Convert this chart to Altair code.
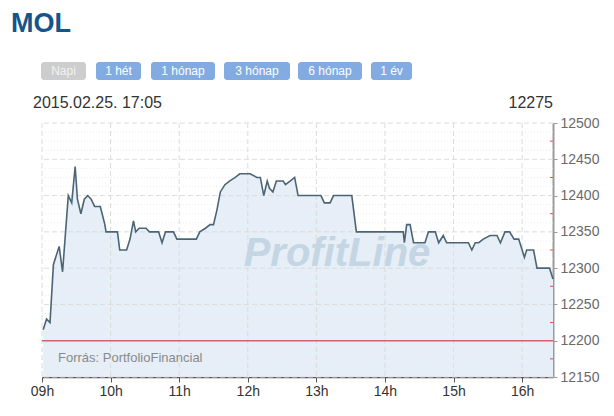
import altair as alt
import pandas as pd

# ---- data ----
times = ["09:01", "09:04", "09:07", "09:10", "09:12", "09:15", "09:18", "09:23", "09:26", "09:29",
         "09:31", "09:34", "09:37", "09:40", "09:43", "09:46", "09:51", "09:55", "09:56", "10:06",
         "10:08", "10:14", "10:17", "10:20", "10:22", "10:25", "10:31", "10:34", "10:42", "10:45",
         "10:48", "10:55", "10:58", "11:15", "11:18", "11:23", "11:27", "11:30", "11:33", "11:36",
         "11:40", "11:44", "11:49", "11:53", "12:02", "12:08", "12:11", "12:14", "12:17", "12:19",
         "12:22", "12:25", "12:31", "12:33", "12:37", "12:41", "12:44", "13:04", "13:07", "13:12",
         "13:15", "13:31", "13:35", "14:16", "14:17", "14:19", "14:22", "14:25", "14:35", "14:38",
         "14:44", "14:47", "14:51", "14:54", "15:13", "15:16", "15:19", "15:22", "15:26", "15:32",
         "15:38", "15:41", "15:45", "15:49", "15:53", "15:57", "16:02", "16:04", "16:10", "16:13",
         "16:24", "16:27"]
prices = [12215, 12230, 12225, 12305, 12315, 12330, 12295, 12400, 12390, 12440,
          12395, 12375, 12395, 12400, 12395, 12385, 12385, 12360, 12350, 12350,
          12325, 12325, 12340, 12365, 12350, 12355, 12355, 12350, 12350, 12335,
          12350, 12350, 12340, 12340, 12350, 12355, 12360, 12360, 12380, 12405,
          12415, 12420, 12425, 12430, 12430, 12425, 12425, 12400, 12420, 12410,
          12405, 12420, 12420, 12415, 12420, 12425, 12400, 12400, 12390, 12390,
          12400, 12400, 12350, 12350, 12335, 12360, 12360, 12335, 12335, 12350,
          12350, 12335, 12345, 12335, 12335, 12325, 12335, 12335, 12340, 12345,
          12345, 12335, 12350, 12350, 12340, 12340, 12315, 12325, 12325, 12300,
          12300, 12285]

hour_ticks = [9, 10, 11, 12, 13, 14, 15, 16]
price_ticks = [12150, 12200, 12250, 12300, 12350, 12400, 12450, 12500]
minor_ticks = [12175, 12225, 12275, 12325, 12375, 12425, 12475]
fine_levels = [12162.5, 12175, 12187.5, 12212.5, 12225, 12237.5, 12262.5, 12275, 12287.5,
               12312.5, 12325, 12337.5, 12362.5, 12375, 12387.5, 12412.5, 12425, 12437.5,
               12462.5, 12475, 12487.5]
prev_close = 12200
x_domain = [9.0, 16.45]
y_domain = [12150, 12500]

title_text = "MOL"
buttons = ["Napi", "1 hét", "1 hónap", "3 hónap", "6 hónap", "1 év"]
stamp = "2015.02.25. 17:05"
last_price = "12275"
source_text = "Forrás: PortfolioFinancial"
watermark = "ProfitLine"


def to_hours(s):
    h, m = s.split(":")
    return int(h) + int(m) / 60.0


df = pd.DataFrame({"t": [to_hours(s) for s in times], "p": prices})
df["base"] = y_domain[0]

FONT = "Arial, 'Liberation Sans', sans-serif"

X = alt.X("t:Q", scale=alt.Scale(domain=x_domain, nice=False, zero=False),
          axis=alt.Axis(values=hour_ticks, title=None, grid=False, labelFlush=False,
                        labelExpr="(datum.value < 10 ? '0' : '') + datum.value + 'h'",
                        domainColor="#555555", domainWidth=1.5, tickColor="#555555",
                        tickSize=5, labelFontSize=14, labelColor="#333333",
                        labelFont=FONT, labelPadding=2))
Y = alt.Y("p:Q", scale=alt.Scale(domain=y_domain, nice=False, zero=False),
          axis=alt.Axis(orient="right", values=price_ticks, title=None, grid=False,
                        format="d", labelFlush=False,
                        domainColor="#9a9a9a", domainWidth=2, tickColor="#9a9a9a",
                        tickSize=4, labelFontSize=14, labelColor="#6a6a6a",
                        labelFont=FONT, labelPadding=3))

area = alt.Chart(df).mark_area(color="#e6eef7", opacity=1).encode(
    x=X, y=Y, y2="base:Q")

fine = alt.Chart(pd.DataFrame({"p": fine_levels})).mark_rule(
    color="#ececec", strokeWidth=1, strokeDash=[1, 2]).encode(y=Y)

hgrid = alt.Chart(pd.DataFrame({"p": price_ticks})).mark_rule(
    color="#dcdcdc", strokeWidth=1, strokeDash=[5, 3]).encode(y=Y)

vgrid = alt.Chart(pd.DataFrame({"t": hour_ticks})).mark_rule(
    color="#dcdcdc", strokeWidth=1, strokeDash=[5, 3]).encode(x=X)

ref = alt.Chart(pd.DataFrame({"p": [prev_close]})).mark_rule(
    color="#d0646f", strokeWidth=1.5).encode(y=Y)

minor = alt.Chart(pd.DataFrame({"p": minor_ticks})).mark_rule(
    color="#d0505a", strokeWidth=1).encode(y=Y, x=alt.value(508), x2=alt.value(511))

one = pd.DataFrame({"k": [0]})

wm = alt.Chart(one).mark_text(
    text=watermark, font=FONT, fontSize=40, fontWeight="bold", fontStyle="italic",
    color="#c4d5e3", align="center", baseline="alphabetic").encode(
    x=alt.value(295), y=alt.value(143))

line = alt.Chart(df).mark_line(color="#4c6576", strokeWidth=1.6).encode(x=X, y=Y)

src = alt.Chart(one).mark_text(
    text=source_text, font=FONT, fontSize=13, color="#8a8a8a", align="left",
    baseline="alphabetic").encode(x=alt.value(16), y=alt.value(239))

head_title = alt.Chart(one).mark_text(
    text=title_text, font=FONT, fontSize=27, fontWeight="bold", color="#13558c",
    align="left", baseline="alphabetic").encode(x=alt.value(-31), y=alt.value(-91))

head_stamp = alt.Chart(one).mark_text(
    text=stamp, font=FONT, fontSize=16, color="#333333", align="left",
    baseline="alphabetic").encode(x=alt.value(-9), y=alt.value(-15))

head_last = alt.Chart(one).mark_text(
    text=last_price, font=FONT, fontSize=16, color="#333333", align="right",
    baseline="alphabetic").encode(x=alt.value(511), y=alt.value(-15))

# button layout (pixel placement of the UI decoration, relative to plot origin)
btn_left = [-1, 54, 109, 182, 256, 329]
btn_right = [44, 99, 173, 248, 320, 370]
btn_layers = []
for i, lab in enumerate(buttons):
    active = (i == 0)
    fill = "#cdcdcd" if active else "#82abe2"
    tcol = "#f2f2f2" if active else "#ffffff"
    btn_layers.append(alt.Chart(one).mark_rect(color=fill, cornerRadius=3).encode(
        x=alt.value(btn_left[i]), x2=alt.value(btn_right[i]),
        y=alt.value(-61), y2=alt.value(-43)))
    btn_layers.append(alt.Chart(one).mark_text(
        text=lab, font=FONT, fontSize=12, color=tcol, align="center",
        baseline="middle").encode(
        x=alt.value((btn_left[i] + btn_right[i]) / 2), y=alt.value(-52)))

chart = alt.layer(
    area, fine, hgrid, vgrid, ref, wm, line, minor, src,
    head_title, head_stamp, head_last, *btn_layers
).properties(
    width=511, height=254,
    padding={"left": 34, "top": 115, "right": 52, "bottom": 28},
    autosize="none", background="white"
).configure_view(stroke=None)

chart.save("out.html", embed_options={"renderer": "svg", "actions": False})
